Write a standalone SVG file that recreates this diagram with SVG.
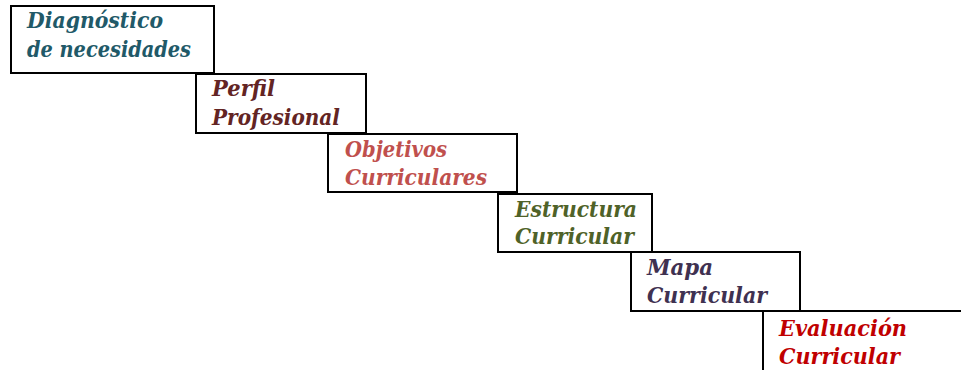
<svg xmlns="http://www.w3.org/2000/svg" width="961" height="370" viewBox="0 0 961 370">
<style>
  .box { fill: #ffffff; stroke: #000000; stroke-width: 2; }
  .t { font-family: "DejaVu Serif", "Liberation Serif", serif; font-style: italic; font-weight: bold; font-size: 22px; }
</style>
<rect x="0" y="0" width="961" height="370" fill="#ffffff"/>
<g id="connectors"></g>
<g id="node1">
  <rect class="box" x="11" y="6" width="203" height="67"/>
  <text class="t" fill="#215968" x="27" y="28" textLength="136" lengthAdjust="spacingAndGlyphs">Diagnóstico</text>
  <text class="t" fill="#215968" x="27" y="57" textLength="164" lengthAdjust="spacingAndGlyphs">de necesidades</text>
</g>
<g id="node2">
  <rect class="box" x="196" y="74" width="170" height="59"/>
  <text class="t" fill="#632423" x="212" y="96" textLength="63" lengthAdjust="spacingAndGlyphs">Perfil</text>
  <text class="t" fill="#632423" x="212" y="125" textLength="128" lengthAdjust="spacingAndGlyphs">Profesional</text>
</g>
<g id="node3">
  <rect class="box" x="328" y="134" width="189" height="58"/>
  <text class="t" fill="#C0504D" x="345" y="157" textLength="102" lengthAdjust="spacingAndGlyphs">Objetivos</text>
  <text class="t" fill="#C0504D" x="345" y="185" textLength="142" lengthAdjust="spacingAndGlyphs">Curriculares</text>
</g>
<g id="node4">
  <rect class="box" x="498" y="194" width="154" height="58"/>
  <text class="t" fill="#4F6228" x="515" y="217" textLength="122" lengthAdjust="spacingAndGlyphs">Estructura</text>
  <text class="t" fill="#4F6228" x="515" y="244" textLength="119" lengthAdjust="spacingAndGlyphs">Curricular</text>
</g>
<g id="node5">
  <rect class="box" x="631" y="252" width="169" height="59"/>
  <text class="t" fill="#3F3151" x="647" y="275" textLength="66" lengthAdjust="spacingAndGlyphs">Mapa</text>
  <text class="t" fill="#3F3151" x="647" y="303" textLength="120" lengthAdjust="spacingAndGlyphs">Curricular</text>
</g>
<g id="node6">
  <rect class="box" x="763" y="311" width="260" height="90"/>
  <text class="t" fill="#C00000" x="779" y="336" textLength="128" lengthAdjust="spacingAndGlyphs">Evaluación</text>
  <text class="t" fill="#C00000" x="779" y="364" textLength="121" lengthAdjust="spacingAndGlyphs">Curricular</text>
</g>
</svg>
